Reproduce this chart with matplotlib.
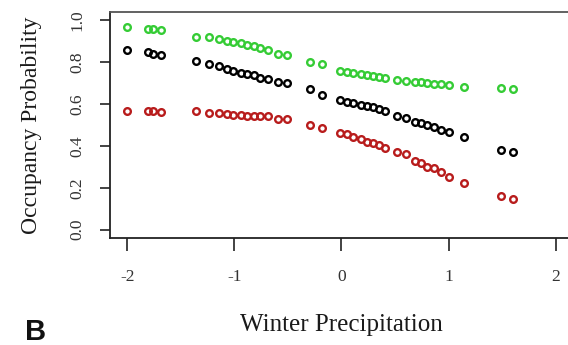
import matplotlib
matplotlib.use("Agg")
import matplotlib.pyplot as plt

# Winter precipitation (standardised covariate) at each site
precip = [-2.00, -1.81, -1.76, -1.68, -1.36, -1.24, -1.14, -1.07, -1.01, -0.94,
          -0.88, -0.82, -0.76, -0.69, -0.59, -0.51, -0.29, -0.18, -0.01, 0.05,
          0.11, 0.18, 0.24, 0.29, 0.35, 0.41, 0.52, 0.60, 0.69, 0.74,
          0.80, 0.86, 0.93, 1.00, 1.14, 1.49, 1.60]

# Upper bound of predicted occupancy
occ_upper = [0.970, 0.960, 0.957, 0.952, 0.923, 0.919, 0.909, 0.900, 0.895, 0.890,
             0.883, 0.876, 0.866, 0.861, 0.842, 0.837, 0.800, 0.790, 0.756, 0.752,
             0.748, 0.745, 0.740, 0.735, 0.730, 0.727, 0.715, 0.710, 0.706, 0.704,
             0.700, 0.697, 0.694, 0.690, 0.680, 0.675, 0.672]

# Mean predicted occupancy
occ_mean = [0.861, 0.847, 0.842, 0.837, 0.804, 0.794, 0.780, 0.770, 0.760, 0.751,
            0.742, 0.737, 0.727, 0.722, 0.708, 0.699, 0.670, 0.646, 0.622, 0.612,
            0.605, 0.598, 0.590, 0.584, 0.575, 0.565, 0.541, 0.536, 0.515, 0.510,
            0.500, 0.493, 0.478, 0.469, 0.445, 0.383, 0.373]

# Lower bound of predicted occupancy
occ_lower = [0.569, 0.565, 0.565, 0.563, 0.565, 0.560, 0.560, 0.555, 0.550, 0.550,
             0.545, 0.545, 0.541, 0.541, 0.531, 0.531, 0.502, 0.488, 0.464, 0.455,
             0.445, 0.431, 0.421, 0.416, 0.407, 0.392, 0.373, 0.364, 0.330, 0.320,
             0.300, 0.297, 0.278, 0.254, 0.225, 0.163, 0.148]

x_ticks = [-2, -1, 0, 1, 2]
y_ticks = [0.0, 0.2, 0.4, 0.6, 0.8, 1.0]

serif = "Liberation Serif"

fig = plt.figure(figsize=(5.68, 3.45), dpi=100)
ax = fig.add_axes([0.1937, 0.310, 0.815, 0.655])

marker_kw = dict(marker="o", linestyle="none", markersize=4.8,
                 markerfacecolor="none", markeredgewidth=1.7)
ax.plot(precip, occ_upper, markeredgecolor="#35cc35", **marker_kw)
ax.plot(precip, occ_mean, markeredgecolor="#000000", **marker_kw)
ax.plot(precip, occ_lower, markeredgecolor="#b81c1c", **marker_kw)

ax.set_xlim(-2.16, 2.16)
ax.set_ylim(-0.04, 1.04)

ax.set_xticks(x_ticks)
ax.set_xticklabels([str(t) for t in x_ticks], fontfamily=serif, fontsize=12.5)
ax.set_yticks(y_ticks)
ax.set_yticklabels([f"{t:.1f}" for t in y_ticks], fontfamily=serif, fontsize=12.5,
                   rotation=90, va="center")

ax.tick_params(axis="x", direction="out", length=9, width=1.2, pad=13, colors="#222222")
ax.tick_params(axis="y", direction="out", length=7.5, width=1.2, pad=10, colors="#222222")
for tl in ax.get_xticklabels() + ax.get_yticklabels():
    tl.set_color("#333333")

for side in ["left", "bottom", "top", "right"]:
    ax.spines[side].set_linewidth(1.3)
    ax.spines[side].set_color("#222222")
ax.spines["top"].set_color("#555555")

ax.set_xlabel("Winter Precipitation", fontfamily=serif, fontsize=18,
              labelpad=21, color="#1a1a1a")
ax.set_ylabel("Occupancy Probability", fontfamily=serif, fontsize=17,
              labelpad=20, color="#1a1a1a")

fig.text(0.044, -0.003, "B", fontfamily="Liberation Sans", fontweight="bold",
         fontsize=21, ha="left", va="bottom", color="#111111")

fig.savefig("out.png", dpi=100)
